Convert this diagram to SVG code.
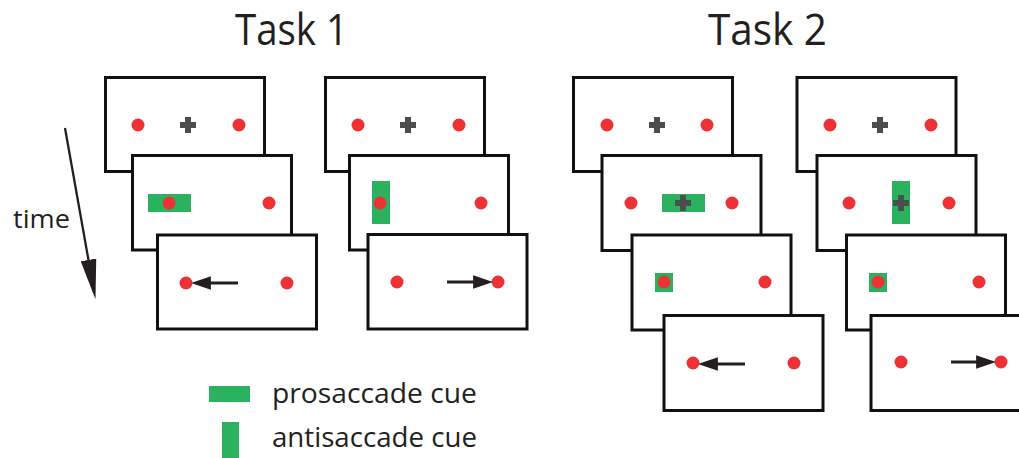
<svg xmlns="http://www.w3.org/2000/svg" width="1019" height="458" viewBox="0 0 1019 458">
<style>
.fr{fill:#fff;stroke:#111;stroke-width:3}
.dot{fill:#ee3135}
.cue{fill:#2bb25f}
.cross{fill:#4b4d4f}
.ar{stroke:#231f20;stroke-width:3;fill:none}
.txt{font-family:"Open Sans","Liberation Sans",sans-serif;fill:#231f20}
</style>
<defs>
<marker id="ah" markerUnits="userSpaceOnUse" markerWidth="20" markerHeight="14" viewBox="0 0 18 12" refX="8" refY="6" orient="auto">
<path d="M0,0 L18,6 L0,12 z" fill="#231f20"/>
</marker>
<marker id="th" markerUnits="userSpaceOnUse" markerWidth="40" markerHeight="16" viewBox="0 0 38 15" refX="30" refY="7.5" orient="auto">
<path d="M0,0 L38,7.5 L0,15 z" fill="#231f20"/>
</marker>
<path id="plus" d="M-3,-8 H3 V-3 H8 V3 H3 V8 H-3 V3 H-8 V-3 H-3 z"/>
</defs>

<text class="txt" x="235" y="45" font-size="44" textLength="113" lengthAdjust="spacingAndGlyphs">Task 1</text>
<text class="txt" x="708" y="45" font-size="44" textLength="119" lengthAdjust="spacingAndGlyphs">Task 2</text>

<g id="time">
<line x1="65" y1="128" x2="94" y2="291" stroke="#231f20" stroke-width="2.3" marker-end="url(#th)"/>
<text class="txt" x="13" y="228" font-size="26" textLength="57" lengthAdjust="spacingAndGlyphs">time</text>
</g>

<!-- Task 1 left column -->
<g id="t1a1">
<rect class="fr" x="105.5" y="77.5" width="159" height="94"/>
<circle class="dot" cx="138" cy="125" r="6.5"/>
<circle class="dot" cx="239" cy="125" r="6.5"/>
<use href="#plus" class="cross" x="188" y="125"/>
</g>
<g id="t1b1">
<rect class="fr" x="132.5" y="155.5" width="159" height="94.5"/>
<rect class="cue" x="148" y="194" width="43" height="18"/>
<circle class="dot" cx="169" cy="203" r="6.5"/>
<circle class="dot" cx="269" cy="203" r="6.5"/>
</g>
<g id="t1c1">
<rect class="fr" x="157.5" y="235" width="159" height="94"/>
<circle class="dot" cx="186" cy="283" r="6.5"/>
<circle class="dot" cx="287" cy="283" r="6.5"/>
</g>

<!-- Task 1 right column -->
<g id="t1a2">
<rect class="fr" x="325.5" y="77.5" width="159" height="94"/>
<circle class="dot" cx="358" cy="125" r="6.5"/>
<circle class="dot" cx="459" cy="125" r="6.5"/>
<use href="#plus" class="cross" x="408" y="125"/>
</g>
<g id="t1b2">
<rect class="fr" x="349.5" y="155.5" width="159" height="94.5"/>
<rect class="cue" x="372" y="181" width="18" height="43"/>
<circle class="dot" cx="380" cy="203" r="6.5"/>
<circle class="dot" cx="481" cy="203" r="6.5"/>
</g>
<g id="t1c2">
<rect class="fr" x="368" y="234.5" width="159" height="94.5"/>
<circle class="dot" cx="397" cy="282" r="6.5"/>
<circle class="dot" cx="498" cy="282" r="6.5"/>
</g>

<!-- Task 2 left column -->
<g id="t2a1">
<rect class="fr" x="573.5" y="77.5" width="159" height="94"/>
<circle class="dot" cx="607" cy="125" r="6.5"/>
<circle class="dot" cx="707" cy="125" r="6.5"/>
<use href="#plus" class="cross" x="657" y="125"/>
</g>
<g id="t2b1">
<rect class="fr" x="602" y="155.5" width="159" height="95"/>
<rect class="cue" x="662" y="194" width="43" height="18"/>
<use href="#plus" class="cross" x="683" y="203"/>
<circle class="dot" cx="631" cy="203" r="6.5"/>
<circle class="dot" cx="732" cy="203" r="6.5"/>
</g>
<g id="t2c1">
<rect class="fr" x="632" y="235" width="159" height="95"/>
<rect class="cue" x="655" y="273" width="18" height="19"/>
<circle class="dot" cx="664" cy="282" r="6.5"/>
<circle class="dot" cx="765" cy="282" r="6.5"/>
</g>
<g id="t2d1">
<rect class="fr" x="664" y="315.5" width="159" height="95"/>
<circle class="dot" cx="693" cy="363" r="6.5"/>
<circle class="dot" cx="794" cy="363" r="6.5"/>
</g>

<!-- Task 2 right column -->
<g id="t2a2">
<rect class="fr" x="797" y="77.5" width="159" height="94"/>
<circle class="dot" cx="830" cy="125" r="6.5"/>
<circle class="dot" cx="931" cy="125" r="6.5"/>
<use href="#plus" class="cross" x="880" y="125"/>
</g>
<g id="t2b2">
<rect class="fr" x="817" y="155.5" width="159" height="95"/>
<rect class="cue" x="892" y="181" width="18" height="43"/>
<use href="#plus" class="cross" x="901" y="203"/>
<circle class="dot" cx="849" cy="203" r="6.5"/>
<circle class="dot" cx="949" cy="203" r="6.5"/>
</g>
<g id="t2c2">
<rect class="fr" x="846.5" y="235" width="159" height="95"/>
<rect class="cue" x="869" y="273" width="18" height="19"/>
<circle class="dot" cx="878" cy="282" r="6.5"/>
<circle class="dot" cx="979" cy="282" r="6.5"/>
</g>
<g id="t2d2">
<rect class="fr" x="871" y="315.5" width="159" height="95"/>
<circle class="dot" cx="901" cy="362" r="6.5"/>
<circle class="dot" cx="1001" cy="362" r="6.5"/>
</g>

<g id="connectors">
<line class="ar" x1="238" y1="283" x2="202" y2="283" marker-end="url(#ah)"/>
<line class="ar" x1="447" y1="282" x2="482" y2="282" marker-end="url(#ah)"/>
<line class="ar" x1="745" y1="364" x2="709" y2="364" marker-end="url(#ah)"/>
<line class="ar" x1="951" y1="362" x2="985" y2="362" marker-end="url(#ah)"/>
</g>

<g id="legend">
<rect class="cue" x="209" y="386" width="41" height="16"/>
<text class="txt" x="272" y="403" font-size="27" textLength="205" lengthAdjust="spacingAndGlyphs">prosaccade cue</text>
<rect class="cue" x="222" y="422" width="17" height="40"/>
<text class="txt" x="272" y="447" font-size="27" textLength="205" lengthAdjust="spacingAndGlyphs">antisaccade cue</text>
</g>
</svg>
